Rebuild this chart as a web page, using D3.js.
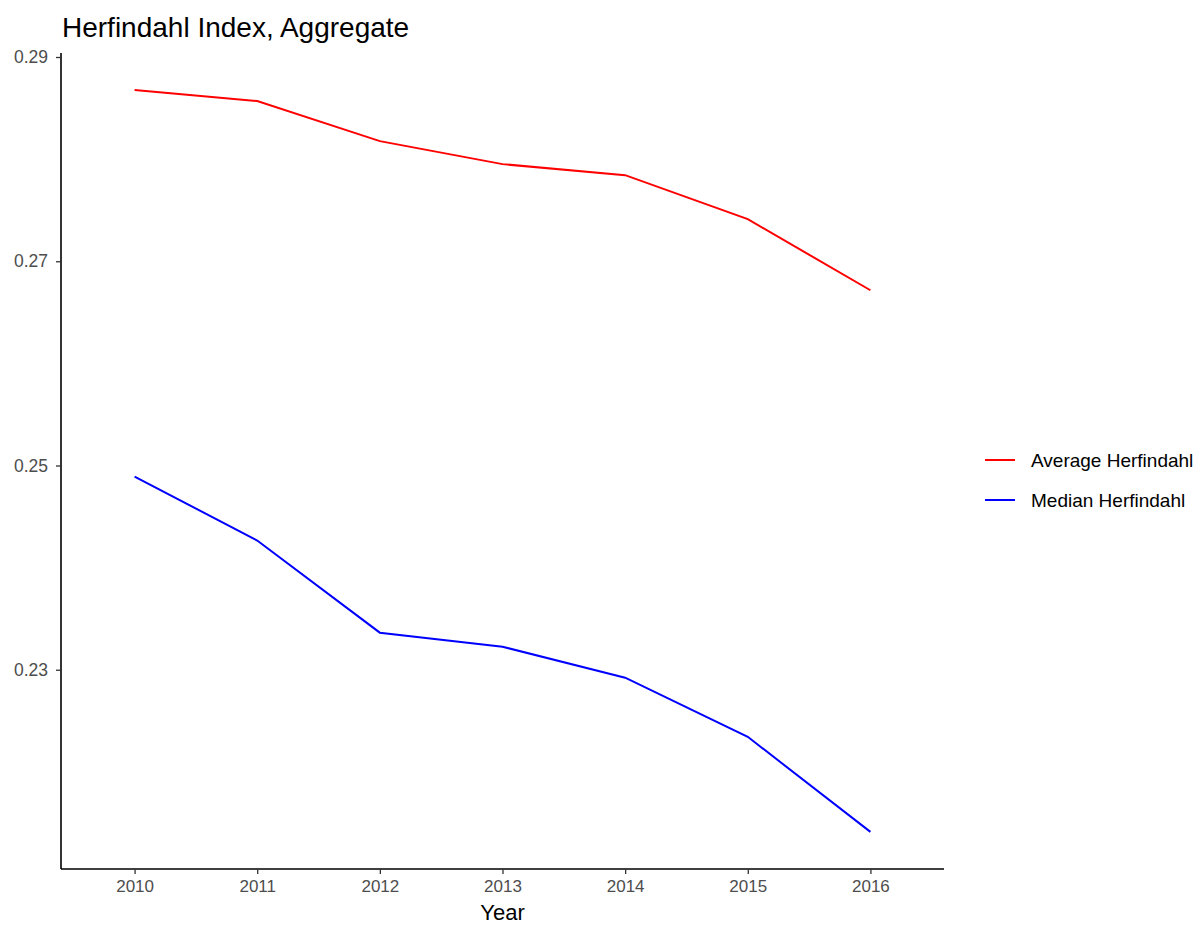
<!DOCTYPE html>
<html>
<head>
<meta charset="utf-8">
<script src="https://cdn.jsdelivr.net/npm/d3@7"></script>
<style>
  body { margin: 0; background: #fff; }
  svg { font-family: "Liberation Sans", Arial, sans-serif; }
</style>
</head>
<body>
<svg width="1199" height="925"></svg>
<script>
// data
var years = ["2010", "2011", "2012", "2013", "2014", "2015", "2016"];
var averageHerf = [0.28676, 0.28569, 0.28176, 0.27951, 0.27843, 0.27412, 0.26716];
var medianHerf = [0.24892, 0.24265, 0.23363, 0.23225, 0.22922, 0.22343, 0.21412];
var yTicks = [0.23, 0.25, 0.27, 0.29];

var series = [
  { name: "Average Herfindahl", color: "#FF0000", values: averageHerf },
  { name: "Median Herfindahl", color: "#0000FF", values: medianHerf }
];

var svg = d3.select("svg");

// panel bounds
var panelLeft = 61, panelRight = 944, panelTop = 53, panelBottom = 869;

// discrete x scale with ggplot-ish 0.6 unit padding
var x = d3.scalePoint()
  .domain(years)
  .range([panelLeft, panelRight])
  .padding(0.6);

var allVals = averageHerf.concat(medianHerf);
var yMin = d3.min(allVals), yMax = d3.max(allVals);
var pad = (yMax - yMin) * 0.05;
var y = d3.scaleLinear()
  .domain([yMin - pad, yMax + pad])
  .range([panelBottom, panelTop]);

// lines
var line = d3.line()
  .x(function(d, i) { return x(years[i]); })
  .y(function(d) { return y(d); });

svg.selectAll("path.series")
  .data(series)
  .enter()
  .append("path")
  .attr("class", "series")
  .attr("fill", "none")
  .attr("stroke", function(d) { return d.color; })
  .attr("stroke-width", 2)
  .attr("d", function(d) { return line(d.values); });

// x axis
var xAxis = svg.append("g")
  .attr("transform", "translate(0," + panelBottom + ")")
  .call(d3.axisBottom(x).tickSize(5).tickPadding(6));
xAxis.select(".domain").attr("stroke", "#000").attr("stroke-width", 1.6)
  .attr("d", "M" + panelLeft + ",0H" + panelRight);
xAxis.selectAll(".tick line").attr("stroke", "#333").attr("stroke-width", 1.3);
xAxis.selectAll(".tick text")
  .attr("fill", "#4D4D4D")
  .style("font-size", "17px")
  .style("font-family", "Liberation Sans, Arial, sans-serif");

// y axis
var yAxis = svg.append("g")
  .attr("transform", "translate(" + panelLeft + ",0)")
  .call(d3.axisLeft(y).tickValues(yTicks).tickFormat(d3.format(".2f")).tickSize(5).tickPadding(8));
yAxis.select(".domain").attr("stroke", "#000").attr("stroke-width", 1.6)
  .attr("d", "M0," + panelTop + "V" + panelBottom);
yAxis.selectAll(".tick line").attr("stroke", "#333").attr("stroke-width", 1.3);
yAxis.selectAll(".tick text")
  .attr("fill", "#4D4D4D")
  .style("font-size", "17.5px")
  .style("font-family", "Liberation Sans, Arial, sans-serif");

// title and axis title
svg.append("text")
  .attr("x", panelLeft + 1)
  .attr("y", 37)
  .attr("fill", "#000")
  .style("font-size", "28px")
  .text("Herfindahl Index, Aggregate");

svg.append("text")
  .attr("x", (panelLeft + panelRight) / 2)
  .attr("y", 920)
  .attr("text-anchor", "middle")
  .attr("fill", "#000")
  .style("font-size", "22px")
  .text("Year");

// legend
var legend = svg.selectAll("g.legend")
  .data(series)
  .enter()
  .append("g")
  .attr("class", "legend")
  .attr("transform", function(d, i) { return "translate(985," + (460 + i * 40) + ")"; });

legend.append("line")
  .attr("x1", 0).attr("x2", 30)
  .attr("y1", 0).attr("y2", 0)
  .attr("stroke", function(d) { return d.color; })
  .attr("stroke-width", 2);

legend.append("text")
  .attr("x", 46)
  .attr("y", 6.5)
  .attr("fill", "#000")
  .style("font-size", "19px")
  .text(function(d) { return d.name; });
</script>
</body>
</html>
